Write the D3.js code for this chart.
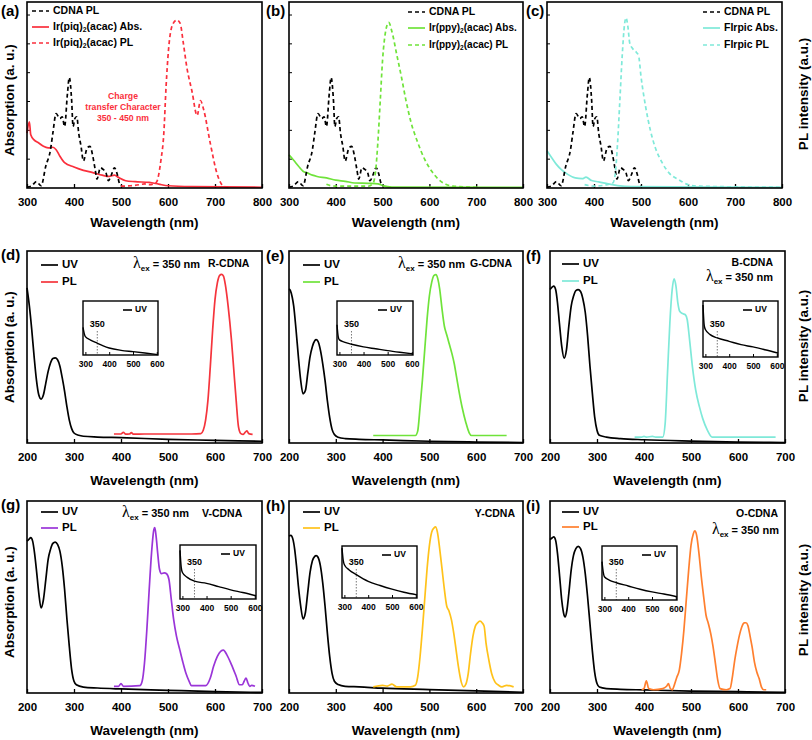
<!DOCTYPE html>
<html><head><meta charset="utf-8">
<script src="https://cdn.jsdelivr.net/npm/d3@7"></script>
<style>
body{margin:0;background:#fff}
svg{display:block}
text{font-family:"Liberation Sans",Arial,Helvetica,sans-serif;font-weight:bold;fill:#000}
</style>
</head><body>
<svg id="chart" width="812" height="740"></svg>
<script>
// ---------------- DATA (wavelength nm, normalised intensity) ----------------
const xTicksTop = [300,400,500,600,700,800];
const xTicksBottom = [200,300,400,500,600,700];
const insetTicks = [300,400,500,600];
const topYTicks = [0.155,0.31,0.465,0.62,0.775,0.93];

const cdnaPL = [[300,0.005],[310,0.012],[320,0.034],[330,0.012],[340,0.118],[350,0.206],[355,0.295],[362,0.40],[370,0.374],[375,0.383],[380,0.33],[386,0.506],[390,0.594],[395,0.471],[398,0.33],[402,0.374],[406,0.383],[410,0.295],[415,0.224],[420,0.145],[428,0.215],[434,0.224],[440,0.171],[445,0.10],[449,0.048],[456,0.109],[462,0.10],[468,0.083],[473,0.039],[480,0.074],[486,0.109],[492,0.074],[496,0.03],[500,0.012]];

const piqAbs = [[300,0.295],[305,0.356],[308,0.286],[315,0.259],[325,0.242],[335,0.224],[345,0.216],[355,0.219],[362,0.206],[370,0.171],[380,0.136],[400,0.113],[420,0.095],[440,0.083],[460,0.069],[475,0.062],[486,0.069],[495,0.056],[510,0.039],[530,0.034],[560,0.030],[580,0.021],[600,0.012],[650,0.007],[800,0.004]];
const piqPL = [[500,0.01],[520,0.012],[540,0.018],[550,0.022],[560,0.018],[575,0.03],[585,0.15],[591,0.29],[596,0.55],[601,0.74],[610,0.88],[619,0.903],[626,0.885],[632,0.79],[640,0.65],[651,0.52],[662,0.39],[669,0.47],[676,0.42],[690,0.24],[704,0.08],[718,0.01],[730,0.003]];

const ppyAbs = [[300,0.178],[310,0.149],[320,0.118],[330,0.09],[340,0.08],[350,0.069],[360,0.062],[380,0.054],[400,0.042],[420,0.036],[440,0.027],[470,0.025],[490,0.022],[500,0.013],[520,0.005],[800,0.003]];
const ppyPL = [[380,0.02],[390,0.012],[400,0.01],[470,0.01],[480,0.027],[485,0.09],[490,0.25],[495,0.47],[500,0.69],[507,0.85],[513,0.89],[520,0.84],[530,0.72],[540,0.60],[550,0.47],[560,0.36],[575,0.245],[590,0.154],[605,0.09],[620,0.045],[635,0.02],[650,0.01],[700,0.004]];

const firpicAbs = [[300,0.2],[310,0.163],[320,0.127],[330,0.10],[345,0.072],[360,0.054],[375,0.05],[383,0.058],[395,0.04],[410,0.033],[430,0.022],[450,0.013],[480,0.007],[800,0.003]];
const firpicPL = [[380,0.018],[400,0.01],[440,0.027],[445,0.072],[450,0.236],[455,0.47],[460,0.71],[465,0.88],[468,0.915],[472,0.87],[476,0.78],[482,0.75],[490,0.73],[495,0.71],[500,0.60],[510,0.435],[520,0.31],[530,0.22],[545,0.136],[560,0.08],[580,0.045],[600,0.018],[620,0.01],[800,0.004]];

const uvR = [[200,0.808],[205,0.714],[210,0.593],[215,0.454],[220,0.330],[225,0.251],[230,0.229],[235,0.251],[240,0.312],[245,0.373],[250,0.417],[255,0.440],[260,0.443],[265,0.434],[270,0.400],[275,0.339],[280,0.269],[285,0.188],[290,0.119],[295,0.075],[300,0.052],[310,0.040],[320,0.035],[350,0.031],[400,0.028],[500,0.019],[600,0.014],[700,0.009]];
const plR = [[385,0.047],[400,0.047],[405,0.056],[410,0.046],[418,0.047],[422,0.054],[426,0.046],[450,0.047],[500,0.047],[550,0.047],[570,0.049],[575,0.066],[580,0.119],[585,0.223],[590,0.398],[595,0.59],[600,0.747],[605,0.834],[610,0.873],[614,0.878],[618,0.869],[622,0.825],[628,0.712],[635,0.537],[640,0.380],[645,0.223],[650,0.084],[655,0.049],[660,0.045],[665,0.058],[668,0.063],[672,0.049],[680,0.045]];

const uvG = [[200,0.802],[203,0.794],[207,0.758],[210,0.714],[215,0.591],[220,0.450],[225,0.326],[230,0.256],[235,0.273],[240,0.361],[245,0.450],[250,0.503],[255,0.533],[258,0.538],[262,0.529],[267,0.485],[272,0.414],[277,0.326],[282,0.220],[287,0.132],[292,0.071],[297,0.044],[305,0.030],[320,0.023],[350,0.019],[400,0.016],[500,0.009],[600,0.005],[700,0.002]];
const plG = [[380,0.039],[470,0.039],[475,0.062],[480,0.185],[485,0.326],[490,0.485],[495,0.644],[500,0.767],[505,0.838],[510,0.873],[514,0.877],[518,0.855],[522,0.802],[527,0.697],[532,0.608],[537,0.564],[542,0.520],[548,0.467],[553,0.414],[558,0.344],[563,0.273],[570,0.185],[578,0.106],[585,0.053],[590,0.039],[665,0.039]];

const uvB = [[200,0.799],[205,0.813],[208,0.817],[212,0.799],[216,0.729],[220,0.625],[225,0.503],[230,0.442],[235,0.485],[240,0.607],[245,0.712],[250,0.764],[255,0.794],[260,0.799],[265,0.789],[270,0.750],[275,0.681],[280,0.558],[285,0.401],[290,0.262],[295,0.136],[300,0.066],[305,0.040],[320,0.031],[350,0.023],[400,0.017],[500,0.010],[600,0.005],[700,0.002]];
const plB = [[380,0.031],[395,0.031],[400,0.035],[405,0.031],[418,0.034],[425,0.031],[440,0.031],[445,0.101],[450,0.363],[455,0.625],[460,0.8],[464,0.855],[468,0.817],[472,0.730],[476,0.686],[482,0.674],[488,0.668],[492,0.642],[497,0.537],[503,0.398],[510,0.276],[518,0.188],[525,0.127],[535,0.066],[545,0.031],[680,0.031]];

const uvV = [[200,0.791],[205,0.803],[208,0.809],[212,0.791],[216,0.730],[220,0.643],[225,0.522],[230,0.443],[235,0.487],[240,0.591],[245,0.696],[250,0.748],[255,0.779],[260,0.786],[265,0.774],[270,0.739],[275,0.661],[280,0.539],[285,0.383],[290,0.243],[295,0.122],[300,0.061],[305,0.043],[320,0.031],[350,0.026],[400,0.021],[500,0.014],[600,0.007],[700,0.003]];
const plV = [[385,0.035],[395,0.035],[400,0.049],[405,0.035],[440,0.038],[445,0.061],[450,0.157],[455,0.330],[460,0.539],[465,0.730],[470,0.852],[472,0.861],[475,0.809],[478,0.730],[482,0.643],[486,0.622],[492,0.626],[497,0.621],[502,0.591],[507,0.487],[512,0.383],[518,0.296],[525,0.226],[532,0.157],[538,0.104],[545,0.061],[550,0.038],[580,0.038],[590,0.078],[597,0.139],[605,0.191],[612,0.217],[618,0.223],[625,0.200],[635,0.148],[645,0.087],[652,0.043],[658,0.043],[662,0.061],[666,0.078],[670,0.052],[674,0.035],[678,0.040],[685,0.035]];

const uvY = [[200,0.818],[204,0.821],[208,0.804],[212,0.751],[216,0.663],[220,0.558],[225,0.453],[230,0.386],[235,0.418],[240,0.523],[245,0.628],[250,0.689],[255,0.712],[258,0.716],[262,0.707],[267,0.663],[272,0.575],[277,0.453],[282,0.312],[287,0.189],[292,0.102],[297,0.061],[305,0.044],[320,0.035],[350,0.032],[400,0.025],[500,0.018],[600,0.011],[700,0.004]];
const plY = [[380,0.032],[400,0.040],[410,0.036],[420,0.046],[430,0.032],[460,0.032],[470,0.040],[475,0.084],[480,0.189],[485,0.330],[490,0.488],[495,0.646],[500,0.768],[505,0.839],[510,0.860],[513,0.865],[517,0.839],[522,0.751],[527,0.646],[532,0.540],[537,0.453],[542,0.426],[547,0.382],[552,0.312],[557,0.225],[562,0.137],[568,0.058],[573,0.032],[578,0.046],[583,0.102],[588,0.207],[593,0.295],[598,0.347],[603,0.365],[608,0.374],[613,0.365],[617,0.347],[621,0.260],[627,0.172],[633,0.102],[640,0.058],[648,0.040],[655,0.032],[665,0.040],[680,0.032]];

const uvO = [[200,0.799],[205,0.809],[208,0.813],[212,0.795],[216,0.726],[220,0.622],[225,0.483],[230,0.405],[232,0.396],[236,0.431],[240,0.517],[245,0.639],[250,0.717],[255,0.752],[260,0.764],[265,0.752],[270,0.708],[275,0.622],[280,0.500],[285,0.361],[290,0.222],[295,0.109],[300,0.049],[305,0.031],[320,0.023],[350,0.019],[400,0.016],[500,0.010],[600,0.007],[700,0.003]];
const plO = [[395,0.017],[400,0.023],[405,0.063],[410,0.023],[420,0.017],[440,0.023],[448,0.035],[452,0.049],[456,0.023],[460,0.017],[465,0.045],[470,0.083],[475,0.118],[480,0.208],[485,0.330],[490,0.486],[495,0.639],[500,0.769],[505,0.830],[508,0.844],[512,0.821],[517,0.726],[522,0.604],[527,0.500],[532,0.405],[537,0.361],[542,0.309],[547,0.240],[552,0.153],[557,0.066],[562,0.023],[575,0.017],[583,0.023],[588,0.083],[593,0.170],[598,0.240],[603,0.300],[608,0.344],[613,0.365],[617,0.366],[621,0.352],[626,0.292],[630,0.240],[635,0.161],[640,0.109],[645,0.075],[650,0.031],[655,0.017],[660,0.017]];

const insetR = [[290,0.51],[295,0.40],[300,0.34],[320,0.28],[350,0.22],[375,0.17],[400,0.13],[450,0.086],[500,0.062],[550,0.037],[605,0.006]];
const insetG = [[290,0.56],[295,0.34],[300,0.28],[320,0.24],[350,0.2],[400,0.15],[450,0.115],[500,0.08],[550,0.05],[605,0.02]];
const insetB = [[290,0.93],[295,0.57],[300,0.49],[320,0.40],[350,0.34],[400,0.28],[450,0.22],[500,0.18],[550,0.13],[605,0.07]];
const insetV = [[290,0.9],[295,0.59],[300,0.49],[320,0.40],[350,0.33],[400,0.29],[450,0.23],[500,0.17],[550,0.12],[605,0.06]];
const insetY = [[290,0.96],[295,0.73],[300,0.64],[320,0.54],[350,0.45],[400,0.32],[450,0.24],[500,0.17],[550,0.11],[605,0.06]];
const insetO = [[290,0.71],[295,0.52],[300,0.43],[320,0.37],[350,0.32],[400,0.26],[450,0.2],[500,0.15],[550,0.11],[605,0.06]];

const colors = {red:"#fa2f3c", green:"#6fe33a", cyan:"#7fe9d9", purple:"#9a35d8", yellow:"#ffc21a", orange:"#ff7f2e", redPL:"#f5343c"};

// ---------------- LAYOUT ----------------
const svg = d3.select("#chart");
const rows = [
  {y0:2, y1:188, lab:203, title:223},
  {y0:251, y1:443, lab:458, title:481},
  {y0:501, y1:693, lab:708, title:731}
];
const cols = [{x0:27,x1:262},{x0:289,x1:523},{x0:550,x1:785}];

const line = (x,y) => d3.line().x(d=>x(d[0])).y(d=>y(d[1])).curve(d3.curveMonotoneX);

function panel(r, c, xdom, xticks) {
  const R = rows[r], C = cols[c];
  const x0 = (r===0 && c===2) ? 547 : C.x0, x1 = (r===0 && c===2) ? 782 : C.x1;
  const x = d3.scaleLinear().domain(xdom).range([x0,x1]);
  const y = d3.scaleLinear().domain([0,1]).range([R.y1,R.y0]);
  const g = svg.append("g");
  const ax = g.append("g").attr("transform",`translate(0,${R.y1})`)
    .call(d3.axisBottom(x).tickValues(xticks).tickSizeInner(-4).tickSizeOuter(0).tickPadding(R.lab-R.y1-4));
  ax.select(".domain").remove();
  ax.selectAll("line").attr("stroke","#000").attr("stroke-width",1.3);
  ax.selectAll("text").attr("font-size",11.5).attr("dy",null).attr("dominant-baseline","middle")
    .attr("y", R.lab - R.y1).style("font-family","Liberation Sans, Arial").style("font-weight","bold");
  g.append("text").attr("x",(x0+x1)/2).attr("y",R.title).attr("text-anchor","middle")
    .attr("dominant-baseline","middle").attr("font-size",13.5).text("Wavelength (nm)");
  return {g,x,y,x0,x1,y0:R.y0,y1:R.y1};
}
function frame(P){
  P.g.append("rect").attr("x",P.x0).attr("y",P.y0).attr("width",P.x1-P.x0).attr("height",P.y1-P.y0)
    .attr("fill","none").attr("stroke","#000").attr("stroke-width",1.6);
}
function series(P, data, color, dashed, w){
  P.g.append("path").datum(data).attr("d",line(P.x,P.y)).attr("fill","none")
    .attr("stroke",color).attr("stroke-width",w||1.7).attr("stroke-dasharray",dashed?"4,3":null)
    .attr("stroke-linejoin","round");
}
function legendItem(g, x, y, color, dashed, label, fs, sub){
  g.append("line").attr("x1",x).attr("x2",x+17).attr("y1",y).attr("y2",y)
    .attr("stroke",color).attr("stroke-width",1.7).attr("stroke-dasharray",dashed?"4,3":null);
  const t = g.append("text").attr("x",x+21).attr("y",y).attr("dominant-baseline","middle").attr("font-size",fs);
  if (sub) {
    t.append("tspan").text(sub[0]);
    t.append("tspan").attr("font-size",fs*0.65).attr("dy",3).text(sub[1]);
    t.append("tspan").attr("dy",-3).text(sub[2]);
  } else t.text(label);
}
function lambda(g, x, y, anchor){
  const t = g.append("text").attr("x",x).attr("y",y).attr("text-anchor",anchor||"start").attr("font-size",11);
  t.append("tspan").style("font-family","Liberation Serif, Times New Roman, serif").style("font-weight","normal").attr("font-size",16).text("λ");
  t.append("tspan").attr("font-size",8).attr("dy",3).text("ex");
  t.append("tspan").attr("dy",-3).text(" = 350 nm");
}
function inset(P, box, data, lblDy){
  const g = P.g.append("g");
  const x = d3.scaleLinear().domain([290,605]).range([box[0],box[1]]);
  const y = d3.scaleLinear().domain([0,1]).range([box[3],box[2]]);
  g.append("line").attr("x1",x(350)).attr("x2",x(350)).attr("y1",box[2]+lblDy+6).attr("y2",box[3])
    .attr("stroke","#555").attr("stroke-width",0.8).attr("stroke-dasharray","1.5,1.5");
  g.append("text").attr("x",x(350)).attr("y",box[2]+lblDy).attr("text-anchor","middle")
    .attr("dominant-baseline","middle").attr("font-size",9).text("350");
  g.append("path").datum(data).attr("d",line(x,y)).attr("fill","none").attr("stroke","#000").attr("stroke-width",1.4);
  const ax = g.append("g").attr("transform",`translate(0,${box[3]})`)
    .call(d3.axisBottom(x).tickValues(insetTicks).tickSizeInner(-3).tickSizeOuter(0).tickPadding(6));
  ax.select(".domain").remove();
  ax.selectAll("line").attr("stroke","#000");
  ax.selectAll("text").attr("font-size",8.5).style("font-family","Liberation Sans, Arial").style("font-weight","bold");
  g.append("rect").attr("x",box[0]).attr("y",box[2]).attr("width",box[1]-box[0]).attr("height",box[3]-box[2])
    .attr("fill","none").attr("stroke","#000").attr("stroke-width",1.4);
  g.append("line").attr("x1",box[1]-35).attr("x2",box[1]-26).attr("y1",box[2]+9).attr("y2",box[2]+9).attr("stroke","#000").attr("stroke-width",1.6);
  g.append("text").attr("x",box[1]-23).attr("y",box[2]+9).attr("dominant-baseline","middle").attr("font-size",8.5).text("UV");
}
function ytickTop(P){
  P.g.selectAll(null).data(topYTicks).enter().append("line")
    .attr("x1",P.x0).attr("x2",P.x0+3).attr("y1",d=>P.y(d)).attr("y2",d=>P.y(d)).attr("stroke","#000").attr("stroke-width",1);
}
function letter(txt, x, y){ svg.append("text").attr("x",x).attr("y",y).attr("font-size",15).text(txt); }
function ylab(txt, x, y){
  svg.append("text").attr("transform",`translate(${x},${y}) rotate(-90)`).attr("text-anchor","middle")
    .attr("dominant-baseline","middle").attr("font-size",13.5).text(txt);
}

// ---- (a)
let P = panel(0,0,[300,800],xTicksTop);
ytickTop(P);
series(P, piqAbs, colors.red, false);
series(P, cdnaPL, "#000", true);
series(P, piqPL, colors.red, true);
frame(P);
legendItem(P.g, 32, 11, "#000", true, "CDNA PL", 10.5);
legendItem(P.g, 32, 27, colors.red, false, null, 10.5, ["Ir(piq)","2","(acac) Abs."]);
legendItem(P.g, 32, 43, colors.red, true, null, 10.5, ["Ir(piq)","2","(acac) PL"]);
[["Charge",99],["transfer Character",110],["350 - 450 nm",121]].forEach(d=>
  P.g.append("text").attr("x",123).attr("y",d[1]).attr("text-anchor","middle").attr("font-size",8.7).style("fill",colors.red).text(d[0]));

// ---- (b)
P = panel(0,1,[300,800],xTicksTop);
ytickTop(P);
series(P, ppyAbs, colors.green, false);
series(P, cdnaPL, "#000", true);
series(P, ppyPL, colors.green, true);
frame(P);
legendItem(P.g, 408, 12, "#000", true, "CDNA PL", 10.5);
legendItem(P.g, 408, 28, colors.green, false, null, 10, ["Ir(ppy)","2","(acac) Abs."]);
legendItem(P.g, 408, 45, colors.green, true, null, 10, ["Ir(ppy)","2","(acac) PL"]);

// ---- (c)
P = panel(0,2,[300,800],xTicksTop);
ytickTop(P);
series(P, firpicAbs, colors.cyan, false);
series(P, cdnaPL, "#000", true);
series(P, firpicPL, colors.cyan, true);
frame(P);
legendItem(P.g, 703, 12, "#000", true, "CDNA PL", 10.5);
legendItem(P.g, 703, 28, colors.cyan, false, "FIrpic Abs.", 10.5);
legendItem(P.g, 703, 45, colors.cyan, true, "FIrpic PL", 10.5);

// ---- (d)
P = panel(1,0,[200,700],xTicksBottom);
series(P, uvR, "#000", false);
series(P, plR, colors.redPL, false);
frame(P);
legendItem(P.g, 41, 265, "#000", false, "UV", 11.5);
legendItem(P.g, 41, 282, colors.redPL, false, "PL", 11.5);
lambda(P.g, 133, 268);
P.g.append("text").attr("x",208).attr("y",267).attr("font-size",10.5).text("R-CDNA");
inset(P, [83,158,301,355], insetR, 24);

// ---- (e)
P = panel(1,1,[200,700],xTicksBottom);
series(P, uvG, "#000", false);
series(P, plG, colors.green, false);
frame(P);
legendItem(P.g, 303, 265, "#000", false, "UV", 11.5);
legendItem(P.g, 303, 282, colors.green, false, "PL", 11.5);
lambda(P.g, 398, 268);
P.g.append("text").attr("x",512).attr("y",267).attr("text-anchor","end").attr("font-size",10.5).text("G-CDNA");
inset(P, [337,413,301,355], insetG, 24);

// ---- (f)
P = panel(1,2,[200,700],xTicksBottom);
series(P, uvB, "#000", false);
series(P, plB, colors.cyan, false);
frame(P);
legendItem(P.g, 562, 264, "#000", false, "UV", 11.5);
legendItem(P.g, 562, 281, colors.cyan, false, "PL", 11.5);
P.g.append("text").attr("x",773).attr("y",266).attr("text-anchor","end").attr("font-size",10.5).text("B-CDNA");
lambda(P.g, 773, 281, "end");
inset(P, [703,778,301,357], insetB, 24);

// ---- (g)
P = panel(2,0,[200,700],xTicksBottom);
series(P, uvV, "#000", false);
series(P, plV, colors.purple, false);
frame(P);
legendItem(P.g, 41, 512, "#000", false, "UV", 11.5);
legendItem(P.g, 41, 528, colors.purple, false, "PL", 11.5);
lambda(P.g, 122, 517);
P.g.append("text").attr("x",202).attr("y",517).attr("font-size",10.5).text("V-CDNA");
inset(P, [180,256,545,599], insetV, 18);

// ---- (h)
P = panel(2,1,[200,700],xTicksBottom);
series(P, uvY, "#000", false);
series(P, plY, colors.yellow, false);
frame(P);
legendItem(P.g, 303, 512, "#000", false, "UV", 11.5);
legendItem(P.g, 303, 528, colors.yellow, false, "PL", 11.5);
P.g.append("text").attr("x",515).attr("y",517).attr("text-anchor","end").attr("font-size",10.5).text("Y-CDNA");
inset(P, [342,417,546,598], insetY, 17);

// ---- (i)
P = panel(2,2,[200,700],xTicksBottom);
series(P, uvO, "#000", false);
series(P, plO, colors.orange, false);
frame(P);
legendItem(P.g, 562, 512, "#000", false, "UV", 11.5);
legendItem(P.g, 562, 527, colors.orange, false, "PL", 11.5);
P.g.append("text").attr("x",778).attr("y",517).attr("text-anchor","end").attr("font-size",10.5).text("O-CDNA");
lambda(P.g, 779, 534, "end");
inset(P, [602,677,546,600], insetO, 17);

// panel letters
[["(a)",1,16],["(b)",266,16],["(c)",526,16],["(d)",1,260],["(e)",266,261],["(f)",526,261],["(g)",1,510],["(h)",266,511],["(i)",526,511]]
  .forEach(d=>letter(d[0],d[1],d[2]));
// axis titles
[100,347,602].forEach(cy=>ylab("Absorption (a. u.)",10,cy));
[94,346,600].forEach(cy=>ylab("PL intensity (a.u.)",804,cy));
</script>
</body></html>
